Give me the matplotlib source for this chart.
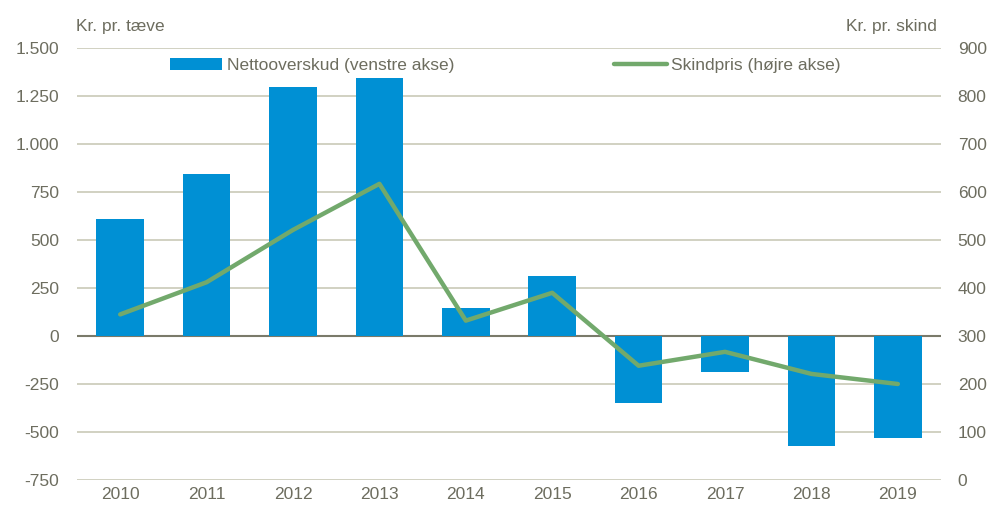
import matplotlib
matplotlib.use("Agg")
import matplotlib.pyplot as plt
from matplotlib.ticker import FuncFormatter
import numpy as np

years = ["2010", "2011", "2012", "2013", "2014", "2015", "2016", "2017", "2018", "2019"]
nettooverskud = [610, 845, 1295, 1345, 145, 310, -350, -190, -575, -530]
skindpris = [345, 412, 521, 617, 332, 390, 238, 267, 221, 200]

bar_color = "#0090d4"
line_color = "#72a96c"
text_color = "#6d6d5f"
grid_color = "#c9c9b8"

plt.rcParams["font.family"] = ["Liberation Sans", "DejaVu Sans"]

fig = plt.figure(figsize=(9.91, 5.18), dpi=100)
ax = fig.add_axes([0.0777, 0.0734, 0.8719, 0.8339])
ax2 = ax.twinx()

x = np.arange(len(years))
ax.bar(x, nettooverskud, width=0.55, color=bar_color, zorder=3,
       label="Nettooverskud (venstre akse)")
ax2.plot(x, skindpris, color=line_color, lw=3.2, solid_capstyle="round",
         label="Skindpris (højre akse)", zorder=4)

ax.set_xlim(-0.5, len(years) - 0.5)
ax.set_ylim(-750, 1500)
ax.set_yticks(np.arange(-750, 1501, 250))
ax2.set_ylim(0, 900)
ax2.set_yticks(np.arange(0, 901, 100))

ax.yaxis.set_major_formatter(FuncFormatter(lambda v, p: f"{int(v):,}".replace(",", ".")))

ax.set_xticks(x)
ax.set_xticklabels(years)

for a in (ax, ax2):
    for s in a.spines.values():
        s.set_visible(False)
    a.tick_params(length=0, labelsize=12.5, colors=text_color)
ax.tick_params(axis="y", pad=13)
ax2.tick_params(axis="y", pad=12)
ax.tick_params(axis="x", pad=5)

ax.grid(axis="y", color=grid_color, lw=1.2, zorder=0)
ax.set_axisbelow(True)
ax.axhline(0, color="#7a7a6a", lw=1.5, zorder=2)

ax2.set_zorder(ax.get_zorder() + 1)
ax2.patch.set_visible(False)

fig.text(0.0767, 0.948, "Kr. pr. tæve", fontsize=12.5, color=text_color, va="center", ha="left")
fig.text(0.9455, 0.948, "Kr. pr. skind", fontsize=12.5, color=text_color, va="center", ha="right")

ax.legend(loc="center left", bbox_to_anchor=(0.1, 0.96), frameon=False,
          fontsize=12.5, labelcolor=text_color, handlelength=3.0, handleheight=0.7,
          handletextpad=0.25, borderaxespad=0)
ax2.legend(loc="center left", bbox_to_anchor=(0.613, 0.96), frameon=False,
           fontsize=12.5, labelcolor=text_color, handlelength=3.1,
           handletextpad=0.2, borderaxespad=0)

fig.savefig("out.png", dpi=100)
